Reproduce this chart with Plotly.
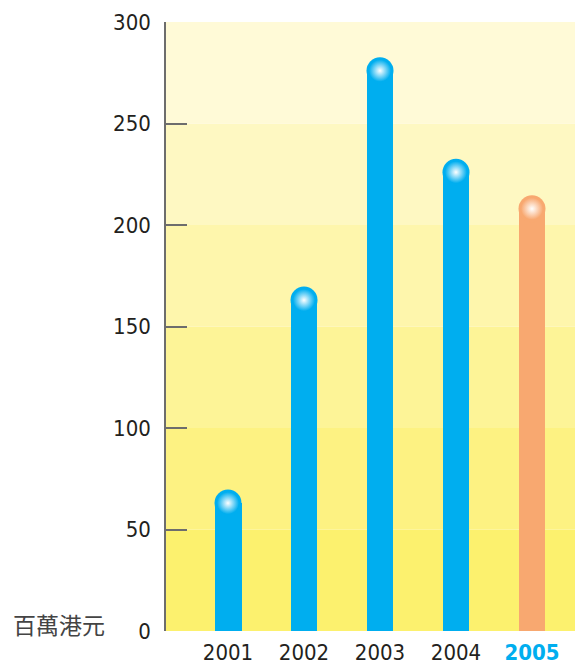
import plotly.graph_objects as go

years = ["2001", "2002", "2003", "2004", "2005"]
values = [63, 163, 276, 226, 208]
bar_colors = ["#00AEEF", "#00AEEF", "#00AEEF", "#00AEEF", "#F8A870"]
band_edges = [0, 50, 100, 150, 200, 250, 300]
band_colors = ["#FCF16E", "#FDF282", "#FDF497", "#FEF6AC", "#FEF8C2", "#FFFAD7"]
y_ticks = [0, 50, 100, 150, 200, 250, 300]
unit_label = "百萬港元"

font_fam = "Liberation Sans Narrow, DejaVu Sans Condensed, Arial Narrow, sans-serif"

tick_text = [y if y != "2005" else "<b><span style='color:#00AEEF'>2005</span></b>" for y in years]

fig = go.Figure()
fig.add_trace(go.Bar(x=years, y=values, marker=dict(color=bar_colors, line=dict(width=0)),
                     width=0.355, hoverinfo="skip"))
fig.add_trace(go.Scatter(x=years, y=values, mode="markers",
                         marker=dict(color=bar_colors, size=27, line=dict(width=0)),
                         hoverinfo="skip"))
fig.add_trace(go.Scatter(x=years, y=values, mode="markers",
                         marker=dict(color=bar_colors, size=22, line=dict(width=0),
                                     gradient=dict(type="radial", color="#FFFFFF")),
                         hoverinfo="skip"))

for i in range(len(band_colors)):
    fig.add_shape(type="rect", xref="paper", yref="y", x0=0, x1=1,
                  y0=band_edges[i], y1=band_edges[i + 1],
                  fillcolor=band_colors[i], line=dict(width=0), layer="below")

fig.add_annotation(text=unit_label, xref="paper", yref="y", x=-0.378, y=0,
                   xanchor="left", yanchor="middle", yshift=7, showarrow=False,
                   font=dict(family="Noto Sans CJK TC, sans-serif", size=23, color="#444444"))

fig.update_layout(
    width=575, height=665,
    margin=dict(l=166, r=0, t=22, b=31),
    paper_bgcolor="white", plot_bgcolor="rgba(0,0,0,0)",
    showlegend=False, bargap=0,
    font=dict(family=font_fam, size=22, color="#231F20"),
)
fig.update_xaxes(type="category", range=[-0.816, 4.566], tickvals=years, ticktext=tick_text,
                 ticks="", showgrid=False, zeroline=False, showline=False,
                 ticklabelstandoff=6, tickfont=dict(size=22, color="#231F20"), fixedrange=True)
fig.update_yaxes(range=[0, 300], tickvals=y_ticks, ticks="inside", ticklen=21,
                 tickcolor="#6D6D6D", tickwidth=1.5, showline=True, linecolor="#6D6D6D",
                 linewidth=1.5, showgrid=False, zeroline=False, ticklabelstandoff=9,
                 tickfont=dict(size=22, color="#231F20"), fixedrange=True)

fig.write_html("out.html")
